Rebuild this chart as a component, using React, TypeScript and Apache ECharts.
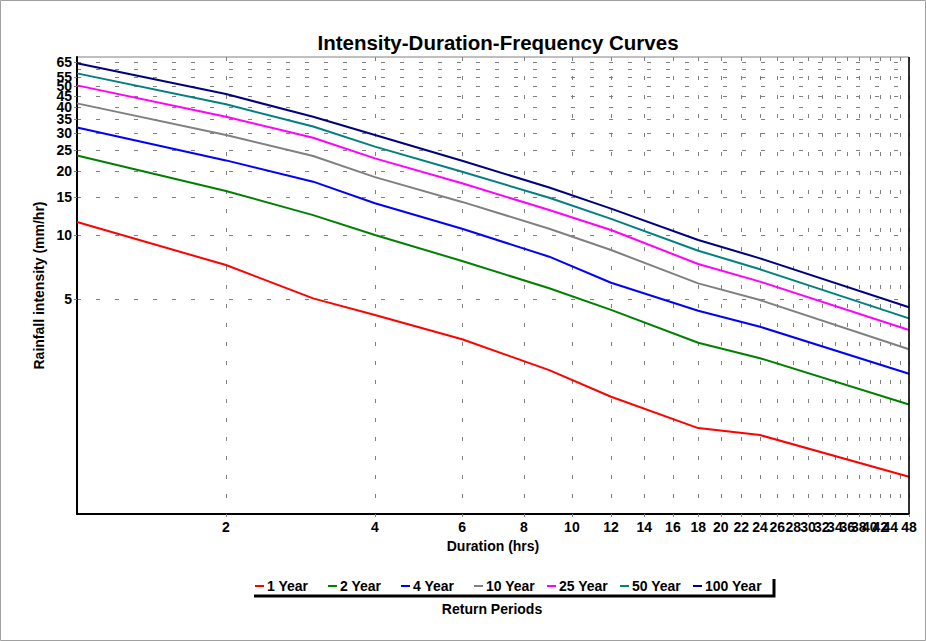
import React, { useEffect, useRef } from "react";
import * as echarts from "echarts";

const durations = [1, 2, 3, 4, 6, 9, 12, 18, 24, 48];
const seriesNames = ["1 Year", "2 Year", "4 Year", "10 Year", "25 Year", "50 Year", "100 Year"];
const seriesColors = ["#ff0000", "#008000", "#0000ff", "#808080", "#ff00ff", "#008080", "#000080"];
const year1 = [11.5, 7.23, 5.04, 4.21, 3.24, 2.32, 1.74, 1.24, 1.15, 0.733];
const year2 = [23.6, 16.1, 12.4, 10.0, 7.55, 5.62, 4.45, 3.12, 2.64, 1.6];
const year4 = [32.0, 22.4, 17.8, 14.1, 10.7, 7.91, 5.97, 4.41, 3.71, 2.23];
const year10 = [41.5, 29.5, 23.5, 18.7, 14.3, 10.7, 8.5, 5.93, 4.95, 2.91];
const year25 = [50.4, 35.9, 28.6, 22.9, 17.5, 13.1, 10.55, 7.31, 6.04, 3.58];
const year50 = [57.4, 41.1, 32.3, 26.0, 19.8, 14.96, 11.9, 8.44, 6.9, 4.06];
const year100 = [64.0, 45.9, 35.9, 29.5, 22.3, 16.7, 13.3, 9.47, 7.77, 4.58];
const xTicks = [2, 4, 6, 8, 10, 12, 14, 16, 18, 20, 22, 24, 26, 28, 30, 32, 34, 36, 38, 40, 42, 44, 46, 48];
const yTicks = [5, 10, 15, 20, 25, 30, 35, 40, 45, 50, 55, 60, 65];

const allValues = [year1, year2, year4, year10, year25, year50, year100];
const FONT = "'Liberation Sans', Arial, sans-serif";

export default function App() {
  const ref = useRef<HTMLDivElement>(null);
  useEffect(() => {
    if (!ref.current) return;
    const chart = echarts.init(ref.current, undefined, { renderer: "svg" });
    const dashed = { color: "#808080", width: 1, type: [4, 15] as any };
    const legendStart = 250;
    const legendPitch = 73;
    chart.setOption({
      animation: false,
      backgroundColor: "#ffffff",
      textStyle: { fontFamily: FONT },
      title: {
        text: "Intensity-Duration-Frequency Curves",
        left: 493,
        top: 27,
        textAlign: "center",
        textStyle: { fontFamily: FONT, fontSize: 20.5, fontWeight: "bold", color: "#000" },
      },
      grid: {
        left: 77,
        right: 17,
        top: 57,
        bottom: 127,
        show: true,
        borderColor: "#808080",
        borderWidth: 1,
        outerBoundsMode: "none",
      },
      legend: seriesNames.map((name, i) => ({
        left: legendStart + i * legendPitch,
        top: 574,
        icon: "rect",
        itemWidth: 9,
        itemHeight: 2,
        data: [name],
        textStyle: { fontFamily: FONT, fontSize: 14, fontWeight: "bold", color: "#000", padding: [0, 0, 0, -2] },
      })),
      xAxis: {
        type: "log",
        logBase: 10,
        min: 1,
        max: 48,
        name: "Duration (hrs)",
        nameLocation: "middle",
        nameGap: 19,
        nameTextStyle: { fontFamily: FONT, fontSize: 14, fontWeight: "bold", color: "#000" },
        axisLine: { lineStyle: { color: "#000", width: 2 } },
        axisTick: { show: true, customValues: xTicks, length: 3, lineStyle: { color: "#808080" } },
        axisLabel: {
          customValues: xTicks,
          showMinLabel: true,
          showMaxLabel: true,
          margin: 6,
          fontFamily: FONT,
          fontSize: 14,
          fontWeight: "bold",
          color: "#000",
        },
        splitLine: { show: true, lineStyle: dashed },
        minorTick: { show: false },
      },
      yAxis: {
        type: "log",
        logBase: 10,
        min: 0.49,
        max: 68.5,
        name: "Rainfall intensity (mm/hr)",
        nameLocation: "middle",
        nameGap: 22,
        nameRotate: 90,
        nameTextStyle: { fontFamily: FONT, fontSize: 14, fontWeight: "bold", color: "#000" },
        axisLine: { lineStyle: { color: "#000", width: 2 } },
        axisTick: { show: true, customValues: yTicks, length: 3, lineStyle: { color: "#808080" } },
        axisLabel: {
          customValues: yTicks,
          showMinLabel: true,
          showMaxLabel: true,
          margin: 5,
          fontFamily: FONT,
          fontSize: 14,
          fontWeight: "bold",
          color: "#000",
        },
        splitLine: { show: true, lineStyle: dashed },
      },
      series: seriesNames.map((name, i) => ({
        name,
        type: "line",
        showSymbol: false,
        symbol: "none",
        color: seriesColors[i],
        lineStyle: { color: seriesColors[i], width: 2 },
        data: durations.map((d, j) => [d, allValues[i][j]]),
      })),
      graphic: [
        { type: "rect", shape: { x: 0.5, y: 0.5, width: 925, height: 640 }, style: { fill: "none", stroke: "#a0a0a0", lineWidth: 1 }, silent: true },
        { type: "line", shape: { x1: 909, y1: 57, x2: 909, y2: 514 }, style: { stroke: "#000", lineWidth: 1.5 }, silent: true, z: 10 },
        { type: "polyline", shape: { points: [[254, 596], [774, 596], [774, 579]] }, style: { stroke: "#000", lineWidth: 3, fill: "none" }, silent: true },
        {
          type: "text",
          x: 492,
          y: 609,
          style: { text: "Return Periods", fill: "#000", font: "bold 14px " + FONT, textAlign: "center", textVerticalAlign: "middle" },
        },
      ],
    } as any);
    return () => chart.dispose();
  }, []);
  return <div ref={ref} style={{ position: "absolute", left: 0, top: 0, width: 926, height: 641 }} />;
}
